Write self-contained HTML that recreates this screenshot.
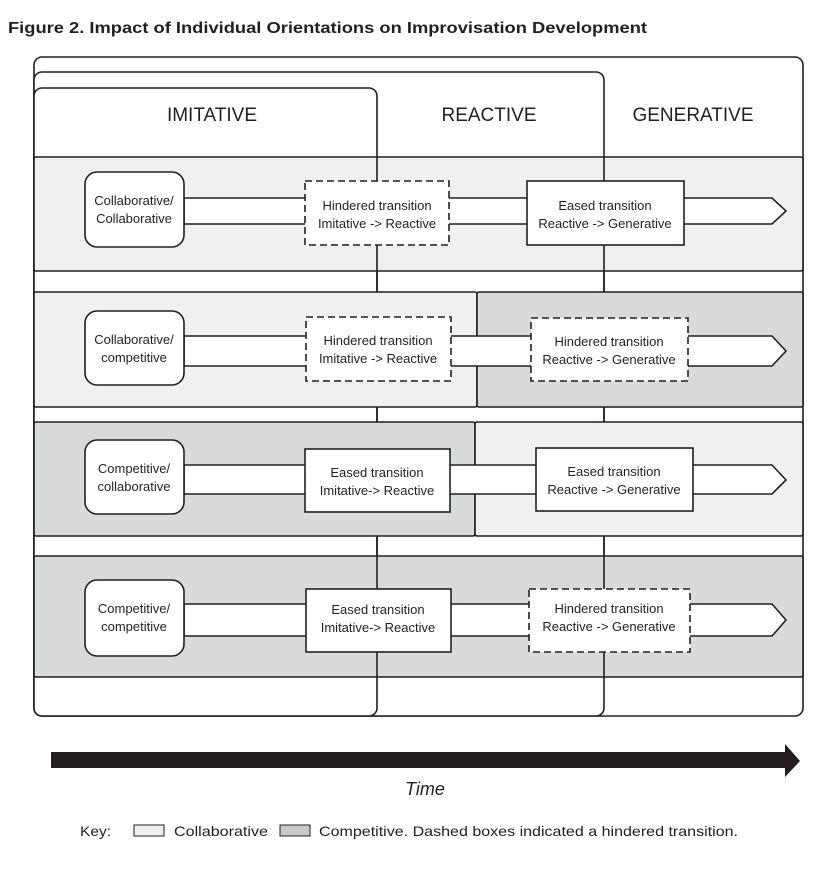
<!DOCTYPE html>
<html><head><meta charset="utf-8"><style>
html,body{margin:0;padding:0;background:#fff;width:834px;height:870px;overflow:hidden}
svg text{font-family:"Liberation Sans",Arial,sans-serif;fill:#231f20}
</style></head><body>
<svg width="834" height="870" viewBox="0 0 834 870" xmlns="http://www.w3.org/2000/svg">
<text x="8" y="33" font-size="16" font-weight="bold" textLength="639" lengthAdjust="spacingAndGlyphs">Figure 2.  Impact of Individual Orientations on Improvisation Development</text>
<g fill="#fff" stroke="#231f20" stroke-width="1.6">
<rect x="34" y="57" width="769" height="659" rx="8"/>
<rect x="34" y="72" width="570" height="644" rx="8"/>
<rect x="34" y="88" width="343" height="628" rx="8"/>
</g>
<text x="212" y="121" font-size="19" text-anchor="middle">IMITATIVE</text>
<text x="489" y="121" font-size="19" text-anchor="middle">REACTIVE</text>
<text x="693" y="121" font-size="19" text-anchor="middle">GENERATIVE</text>
<g stroke="#231f20" stroke-width="1.6">
<rect x="34" y="157" width="769" height="114" fill="#f0f0f0" rx="2"/>
<rect x="34" y="292" width="443" height="115" fill="#f0f0f0" rx="2"/>
<rect x="477" y="292" width="326" height="115" fill="#d9dadc" rx="2"/>
<rect x="34" y="422" width="441" height="114" fill="#d9dadc" rx="2"/>
<rect x="475" y="422" width="328" height="114" fill="#f0f0f0" rx="2"/>
<rect x="34" y="556" width="769" height="121" fill="#d9dadc" rx="2"/>
<line x1="377" y1="157" x2="377" y2="292"/><line x1="604" y1="157" x2="604" y2="292"/>
<line x1="377" y1="407" x2="377" y2="422"/><line x1="604" y1="407" x2="604" y2="422"/>
<line x1="377" y1="536" x2="377" y2="677"/><line x1="604" y1="536" x2="604" y2="677"/>
</g>
<g stroke="#231f20" stroke-width="1.6" fill="#fff">
<path d="M184 198 H772 L786 211 L772 224 H184 Z"/>
<path d="M184 336 H772 L786 351 L772 366 H184 Z"/>
<path d="M184 465 H772 L786 480 L772 494 H184 Z"/>
<path d="M184 604 H772 L786 620 L772 636 H184 Z"/>
<rect x="85" y="172" width="99" height="75" rx="12"/>
<rect x="85" y="311" width="99" height="74" rx="12"/>
<rect x="85" y="440" width="99" height="74" rx="12"/>
<rect x="85" y="580" width="99" height="76" rx="12"/>
<rect x="527" y="181" width="157" height="64"/>
<rect x="305" y="449" width="145" height="63"/>
<rect x="536" y="448" width="157" height="63"/>
<rect x="306" y="589" width="145" height="63"/>
<g stroke-dasharray="7,4">
<rect x="305" y="181" width="144" height="64"/>
<rect x="306" y="317" width="145" height="64"/>
<rect x="531" y="318" width="157" height="63"/>
<rect x="529" y="589" width="161" height="63"/>
</g>
</g>
<g font-size="13" text-anchor="middle">
<text x="134" y="205">Collaborative/</text><text x="134" y="223">Collaborative</text>
<text x="134" y="344">Collaborative/</text><text x="134" y="362">competitive</text>
<text x="134" y="473">Competitive/</text><text x="134" y="491">collaborative</text>
<text x="134" y="613">Competitive/</text><text x="134" y="631">competitive</text>
<text x="377" y="210">Hindered transition</text><text x="377" y="228">Imitative -&gt; Reactive</text>
<text x="605" y="210">Eased transition</text><text x="605" y="228">Reactive -&gt; Generative</text>
<text x="378" y="345">Hindered transition</text><text x="378" y="363">Imitative -&gt; Reactive</text>
<text x="609" y="346">Hindered transition</text><text x="609" y="364">Reactive -&gt; Generative</text>
<text x="377" y="477">Eased transition</text><text x="377" y="495">Imitative-&gt; Reactive</text>
<text x="614" y="476">Eased transition</text><text x="614" y="494">Reactive -&gt; Generative</text>
<text x="378" y="614">Eased transition</text><text x="378" y="632">Imitative-&gt; Reactive</text>
<text x="609" y="613">Hindered transition</text><text x="609" y="631">Reactive -&gt; Generative</text>
</g>
<path d="M51 752 H785 V744 L800 761 L785 777 V768 H51 Z" fill="#231f20"/>
<text x="425" y="795" font-size="18" font-style="italic" text-anchor="middle">Time</text>
<g font-size="14">
<text x="80" y="836" textLength="31" lengthAdjust="spacingAndGlyphs">Key:</text>
<rect x="134" y="825" width="30" height="11" fill="#f0f0f0" stroke="#231f20" stroke-width="1"/>
<text x="174" y="836" textLength="94" lengthAdjust="spacingAndGlyphs">Collaborative</text>
<rect x="280" y="825" width="30" height="11" fill="#c8c9cb" stroke="#231f20" stroke-width="1"/>
<text x="319" y="836" textLength="419" lengthAdjust="spacingAndGlyphs">Competitive. Dashed boxes indicated a hindered transition.</text>
</g>
</svg>
</body></html>
